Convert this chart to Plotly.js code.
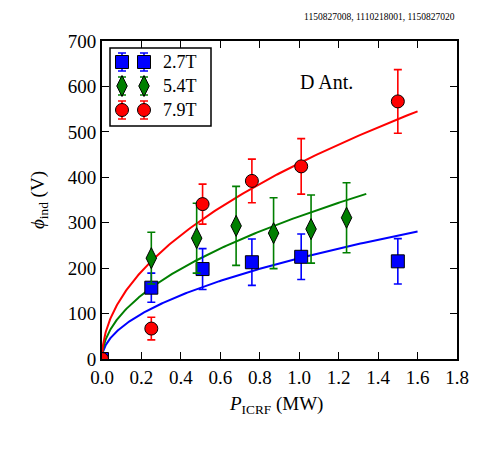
<!DOCTYPE html>
<html><head><meta charset="utf-8">
<script src="https://cdn.plot.ly/plotly-3.0.1.min.js"></script>
<style>body{margin:0;background:#fff}#c{width:495px;height:450px}</style>
</head><body><div id="c"></div>
<script>
// Data
const x27 = [0, 0.25, 0.51, 0.76, 1.01, 1.50];
const y27 = [0, 157, 198, 213, 225, 215];
const e27 = [0, 32, 45, 51, 50, 50];

const x54 = [0.25, 0.48, 0.68, 0.87, 1.06, 1.24];
const y54 = [222, 266, 293, 277, 286, 311];
const e54 = [57, 77, 87, 78, 75, 77];

const x79 = [0, 0.25, 0.51, 0.76, 1.01, 1.50];
const y79 = [0, 67, 341, 392, 424, 567];
const e79 = [0, 25, 44, 48, 61, 70];

// power-law fit parameters phi = a * P^b, drawn up to xmax
const fitA = [222, 314, 431];
const fitB = [0.5, 0.5, 0.5];
const fitXmax = [1.6, 1.34, 1.6];
const colors = ['#0000ff', '#007f00', '#ff0000'];
const labels = ['2.7T', '5.4T', '7.9T'];
const xTicks = [0, 0.2, 0.4, 0.6, 0.8, 1.0, 1.2, 1.4, 1.6, 1.8];
const yTicks = [0, 100, 200, 300, 400, 500, 600, 700];

// legend layout (pixel units on an overlay axis)
const legX = [122, 144];
const legY = [62, 86, 110];
const legTextX = 161;

const font = 'Liberation Serif';
const symbols = ['square', 'diamond-tall', 'circle'];
const sizes = [13, 15, 13];
const traces = [];
for (let k = 0; k < 3; k++) {
  const xs = [], ys = [];
  const n = 200;
  for (let i = 0; i <= n; i++) {
    const xv = fitXmax[k] * Math.pow(i / n, 2);
    xs.push(xv); ys.push(fitA[k] * Math.pow(xv, fitB[k]));
  }
  traces.push({x: xs, y: ys, mode: 'lines', line: {color: colors[k], width: 2}, showlegend: false, hoverinfo: 'skip'});
}
const sets = [[x27, y27, e27], [x54, y54, e54], [x79, y79, e79]];
sets.forEach((s, k) => {
  traces.push({
    x: s[0], y: s[1], mode: 'markers', name: labels[k], showlegend: false,
    error_y: {type: 'data', array: s[2], color: colors[k], thickness: 1.6, width: 4},
    marker: {symbol: symbols[k], size: sizes[k], color: colors[k], line: {color: '#000', width: 1}}
  });
});
// custom legend entries (two markers each, matplotlib style)
const annotations = [];
for (let k = 0; k < 3; k++) {
  traces.push({
    x: legX, y: [legY[k], legY[k]], xaxis: 'x2', yaxis: 'y2', mode: 'markers', showlegend: false,
    cliponaxis: false, hoverinfo: 'skip',
    error_y: {type: 'constant', value: 9, color: colors[k], thickness: 1.6, width: 4},
    marker: {symbol: symbols[k], size: sizes[k], color: colors[k], line: {color: '#000', width: 1}}
  });
  annotations.push({x: legTextX, y: legY[k], xref: 'x2', yref: 'y2', xanchor: 'left', yanchor: 'middle',
    text: labels[k], showarrow: false, font: {family: font, size: 18, color: '#000'}});
}

const axisCommon = {
  showgrid: false, zeroline: false, showline: true, linecolor: '#000', linewidth: 2,
  mirror: 'allticks', ticks: 'inside', ticklen: 7, tickwidth: 1, tickcolor: '#000',
  tickfont: {family: font, size: 19, color: '#000'}
};
annotations.push(
  {x: 1.14, y: 609, xref: 'x', yref: 'y', text: 'D Ant.', showarrow: false, font: {family: font, size: 20, color: '#000'}},
  {x: 1.0, xanchor: 'right', y: 1.0 + (41 - 17) / 318, yanchor: 'middle', xref: 'paper', yref: 'paper',
   text: '1150827008, 1110218001, 1150827020', showarrow: false, font: {family: font, size: 9.5, color: '#000'}},
  {x: (276 - 102) / 355, y: (359 - 405) / 318, xref: 'paper', yref: 'paper', xanchor: 'center', yanchor: 'middle',
   text: '<i>P</i><sub>ICRF</sub> (MW)', showarrow: false, font: {family: font, size: 19, color: '#000'}},
  {x: (39 - 102) / 355, y: 0.5, xref: 'paper', yref: 'paper', xanchor: 'center', yanchor: 'middle', textangle: -90,
   text: '<i>ϕ</i><sub>ind</sub> (V)', showarrow: false, font: {family: font, size: 19, color: '#000'}}
);
const layout = {
  width: 495, height: 450,
  margin: {l: 102, r: 38, t: 41, b: 91},
  paper_bgcolor: '#fff', plot_bgcolor: '#fff',
  font: {family: font, color: '#000'},
  xaxis: Object.assign({}, axisCommon, {range: [0, 1.8], tickvals: xTicks, tickformat: '.1f'}),
  yaxis: Object.assign({}, axisCommon, {range: [0, 700], tickvals: yTicks}),
  xaxis2: {overlaying: 'x', range: [102, 457], visible: false, fixedrange: true},
  yaxis2: {overlaying: 'y', range: [359, 41], visible: false, fixedrange: true},
  shapes: [{type: 'rect', xref: 'x2', yref: 'y2', x0: 110, x1: 211, y0: 48, y1: 126, layer: 'below',
    line: {color: '#000', width: 1.5}, fillcolor: '#fff'}],
  annotations: annotations,
  showlegend: false
};
Plotly.newPlot('c', traces, layout, {displayModeBar: false, staticPlot: true});
</script></body></html>
